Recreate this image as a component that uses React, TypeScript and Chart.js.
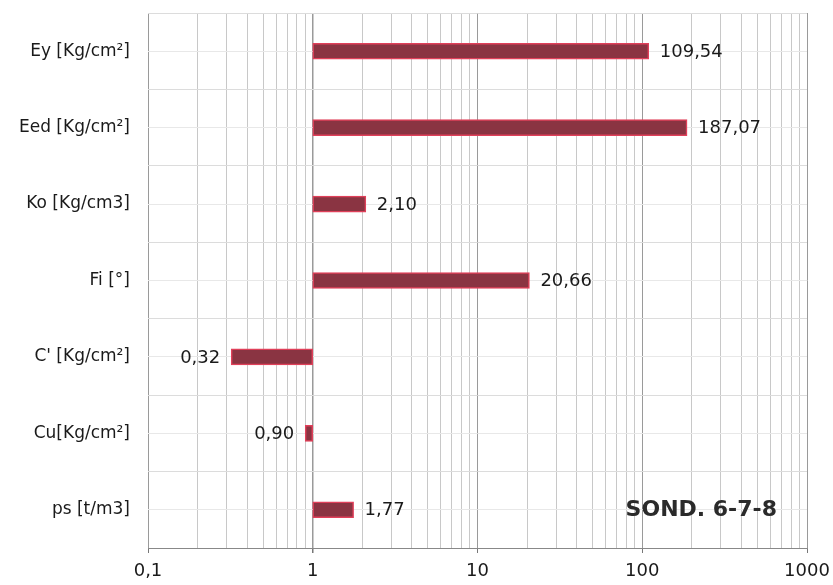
import React, { useEffect, useRef } from "react";
import { Chart, registerables } from "chart.js";

Chart.register(...registerables);

const categories = ["Ey [Kg/cm²]", "Eed [Kg/cm²]", "Ko [Kg/cm3]", "Fi [°]", "C' [Kg/cm²]", "Cu[Kg/cm²]", "ps [t/m3]"];
const values = [109.54, 187.07, 2.1, 20.66, 0.32, 0.9, 1.77];
const valueLabels = ["109,54", "187,07", "2,10", "20,66", "0,32", "0,90", "1,77"];
const baseValue = 1;
const majorTicks = [0.1, 1, 10, 100, 1000];
const majorTickLabels = ["0,1", "1", "10", "100", "1000"];
const stampText = "SOND. 6-7-8";

const FONT = "'DejaVu Sans', sans-serif";

const valueLabelPlugin = {
  id: "valueLabels",
  afterDatasetsDraw(chart: any) {
    const ctx = chart.ctx;
    const meta = chart.getDatasetMeta(0);
    ctx.save();
    ctx.font = `18px ${FONT}`;
    ctx.fillStyle = "#1a1a1a";
    ctx.textBaseline = "middle";
    meta.data.forEach((bar: any, i: number) => {
      const v = values[i];
      const xs = chart.scales.x;
      if (v >= baseValue) {
        ctx.textAlign = "left";
        ctx.fillText(valueLabels[i], xs.getPixelForValue(v) + 11, bar.y + 1);
      } else {
        ctx.textAlign = "right";
        ctx.fillText(valueLabels[i], xs.getPixelForValue(v) - 11, bar.y + 1);
      }
    });
    const ys = chart.scales.y;
    const lastY = ys.getPixelForValue(categories.length - 1);
    ctx.font = `bold 22px ${FONT}`;
    ctx.textAlign = "right";
    ctx.fillStyle = "#2a2a2a";
    ctx.fillText(stampText, chart.chartArea.right - 30, lastY);
    ctx.restore();
  },
};

export default function App() {
  const ref = useRef<HTMLCanvasElement>(null);
  useEffect(() => {
    document.body.style.margin = "0";
    const allTicks: number[] = [];
    for (let e = -1; e < 3; e++) {
      for (let m = 1; m < 10; m++) allTicks.push(Number((m * Math.pow(10, e)).toPrecision(3)));
    }
    allTicks.push(1000);
    const zeroPad = (scale: any) => {
      scale.paddingTop = 0;
      scale.paddingBottom = 0;
    };
    const chart = new Chart(ref.current!, {
      type: "bar",
      data: {
        labels: categories,
        datasets: [
          {
            data: values.map((v) => (v >= baseValue ? [baseValue, v] : [v, baseValue])) as any,
            backgroundColor: "#8a3442",
            borderColor: "#e0405a",
            borderWidth: 1.5,
            borderSkipped: false,
            barThickness: 16,
          },
        ],
      },
      options: {
        indexAxis: "y",
        animation: false,
        responsive: false,
        layout: { padding: { top: 13, right: 26, left: 0, bottom: 0 } },
        plugins: { legend: { display: false }, tooltip: { enabled: false } },
        scales: {
          x: {
            type: "logarithmic",
            min: 0.1,
            max: 1000,
            afterBuildTicks: (scale: any) => {
              scale.ticks = allTicks.map((v) => ({ value: v, major: majorTicks.includes(v) }));
            },
            afterFit: (scale: any) => {
              scale.height = 37;
              scale.paddingLeft = 0;
              scale.paddingRight = 0;
            },
            ticks: {
              autoSkip: false,
              maxRotation: 0,
              color: "#1a1a1a",
              font: { family: FONT, size: 18 },
              padding: 8,
              callback: (val: any) => {
                const idx = majorTicks.findIndex((m) => Math.abs(m - Number(val)) < 1e-9);
                return idx >= 0 ? majorTickLabels[idx] : "";
              },
            },
            grid: {
              color: (c: any) => (c.tick && majorTicks.includes(c.tick.value) ? "#9a9a9a" : "#c8c8c8"),
              lineWidth: (c: any) => (c.tick && c.tick.value === 1 ? 1.5 : 1),
              tickLength: 5,
              tickColor: (c: any) => (c.tick && majorTicks.includes(c.tick.value) ? "#777" : "rgba(0,0,0,0)"),
            },
            border: { color: "#888" },
          },
          y: {
            afterFit: (scale: any) => {
              scale.width = 148;
              zeroPad(scale);
            },
            ticks: {
              color: "#1a1a1a",
              font: { family: FONT, size: 17 },
              padding: 18,
            },
            grid: {
              offset: true,
              color: "#dcdcdc",
              drawTicks: false,
            },
            border: { display: false },
          },
          y2: {
            type: "category",
            labels: categories,
            position: "left",
            display: true,
            afterFit: (scale: any) => {
              scale.width = 0;
              zeroPad(scale);
            },
            ticks: { display: false },
            grid: { offset: false, color: "#e8e8e8", drawTicks: false },
            border: { display: false },
          },
        },
      },
      plugins: [valueLabelPlugin],
    });
    return () => chart.destroy();
  }, []);
  return (
    <div style={{ position: "absolute", left: 0, top: 0, width: 833, height: 585, background: "#fff" }}>
      <canvas ref={ref} width={833} height={585} />
    </div>
  );
}
